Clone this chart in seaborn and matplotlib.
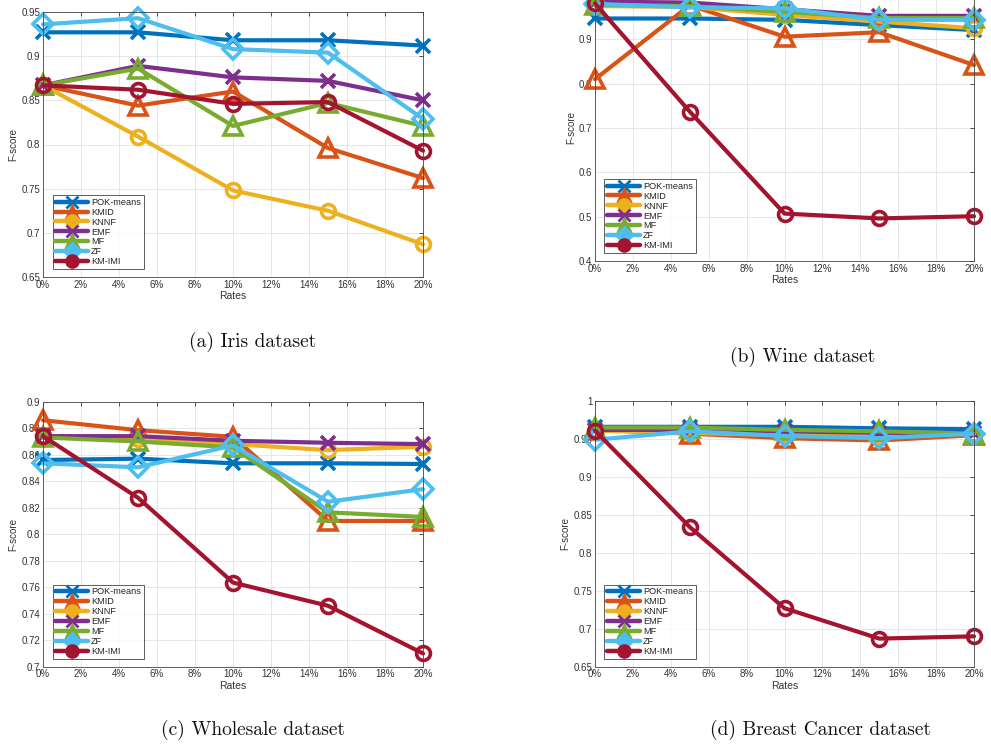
import numpy as np
import pandas as pd
import matplotlib
matplotlib.use("Agg")
import matplotlib.pyplot as plt
from matplotlib.lines import Line2D
import seaborn as sns

sns.set_theme(style="white")
plt.rcParams['font.family'] = ['Liberation Sans', 'DejaVu Sans']

rates = [0, 5, 10, 15, 20]
methods = ["POK-means", "KMID", "KNNF", "EMF", "MF", "ZF", "KM-IMI"]
colors = ["#0072BD", "#D95319", "#EDB120", "#7E2F8E", "#77AC30", "#4DBEEE", "#A2142F"]
markers = ["x", "^", "o", "x", "^", "D", "o"]

# (a) Iris
iris_pok = [0.927, 0.927, 0.918, 0.918, 0.912]
iris_kmid = [0.867, 0.844, 0.860, 0.796, 0.762]
iris_knnf = [0.867, 0.809, 0.748, 0.725, 0.687]
iris_emf = [0.867, 0.889, 0.876, 0.872, 0.850]
iris_mf = [0.867, 0.886, 0.821, 0.847, 0.821]
iris_zf = [0.936, 0.943, 0.908, 0.904, 0.829]
iris_kmimi = [0.867, 0.862, 0.846, 0.848, 0.793]

# (b) Wine
wine_pok = [0.947, 0.947, 0.944, 0.932, 0.921]
wine_kmid = [0.810, 0.977, 0.906, 0.916, 0.842]
wine_knnf = [0.975, 0.973, 0.955, 0.940, 0.925]
wine_emf = [0.985, 0.983, 0.968, 0.953, 0.953]
wine_mf = [0.978, 0.975, 0.962, 0.948, 0.948]
wine_zf = [0.980, 0.972, 0.970, 0.944, 0.944]
wine_kmimi = [0.981, 0.737, 0.507, 0.496, 0.501]

# (c) Wholesale
whole_pok = [0.856, 0.857, 0.8535, 0.8535, 0.853]
whole_kmid = [0.886, 0.8785, 0.8735, 0.810, 0.810]
whole_knnf = [0.874, 0.872, 0.868, 0.8635, 0.866]
whole_emf = [0.874, 0.874, 0.8705, 0.869, 0.868]
whole_mf = [0.873, 0.870, 0.8655, 0.8165, 0.813]
whole_zf = [0.8535, 0.8505, 0.867, 0.8245, 0.834]
whole_kmimi = [0.874, 0.8275, 0.7635, 0.746, 0.710]

# (d) Breast Cancer
breast_pok = [0.966, 0.966, 0.966, 0.964, 0.963]
breast_kmid = [0.962, 0.957, 0.951, 0.948, 0.955]
breast_knnf = [0.961, 0.958, 0.955, 0.953, 0.957]
breast_emf = [0.962, 0.962, 0.960, 0.958, 0.958]
breast_mf = [0.965, 0.965, 0.962, 0.960, 0.957]
breast_zf = [0.949, 0.960, 0.954, 0.951, 0.957]
breast_kmimi = [0.961, 0.834, 0.727, 0.687, 0.690]

panels = [
    dict(series=[iris_pok, iris_kmid, iris_knnf, iris_emf, iris_mf, iris_zf, iris_kmimi],
         ylim=(0.65, 0.95), yticks=np.arange(0.65, 0.951, 0.05),
         rect=[43/991, 1-277/746, 380/991, 265/746],
         caption="(a) Iris dataset", cap=(253, 342)),
    dict(series=[wine_pok, wine_kmid, wine_knnf, wine_emf, wine_mf, wine_zf, wine_kmimi],
         ylim=(0.4, 1.0), yticks=np.arange(0.4, 1.001, 0.1),
         rect=[595/991, 1-261/746, 379/991, 266/746],
         caption="(b) Wine dataset", cap=(803, 357)),
    dict(series=[whole_pok, whole_kmid, whole_knnf, whole_emf, whole_mf, whole_zf, whole_kmimi],
         ylim=(0.7, 0.9), yticks=np.arange(0.7, 0.901, 0.02),
         rect=[43/991, 1-666.7/746, 380/991, 265/746],
         caption="(c) Wholesale dataset", cap=(253, 730)),
    dict(series=[breast_pok, breast_kmid, breast_knnf, breast_emf, breast_mf, breast_zf, breast_kmimi],
         ylim=(0.65, 1.0), yticks=np.arange(0.65, 1.001, 0.05),
         rect=[595/991, 1-666.7/746, 379/991, 265.7/746],
         caption="(d) Breast Cancer dataset", cap=(820, 730)),
]

fig = plt.figure(figsize=(9.91, 7.46), dpi=100)
fig.patch.set_facecolor("white")

for p in panels:
    ax = fig.add_axes(p["rect"])
    for name, vals, c, m in zip(methods, p["series"], colors, markers):
        df = pd.DataFrame({"Rates": rates, "F": vals})
        ms = {"x": 10, "^": 12.5, "o": 10, "D": 10}[m]
        sns.lineplot(data=df, x="Rates", y="F", ax=ax, color=c, linewidth=3.0,
                     marker=m, markersize=ms, markerfacecolor="none",
                     markeredgecolor=c, markeredgewidth=2.6, clip_on=False,
                     legend=False)
    ax.set_xlim(0, 20)
    ax.set_ylim(*p["ylim"])
    ax.set_xticks(np.arange(0, 21, 2))
    ax.set_xticklabels([f"{v}%" for v in range(0, 21, 2)])
    ax.set_yticks(p["yticks"])
    ax.set_yticklabels([f"{round(v, 2):g}" for v in p["yticks"]])
    ax.grid(True, color="#e3e3e3", linewidth=0.6)
    ax.tick_params(direction="in", length=3, width=0.6, labelsize=7,
                   colors="#333333", top=True, right=True, pad=2)
    for s in ax.spines.values():
        s.set_color("#444444")
        s.set_linewidth(0.6)
    ax.set_xlabel("Rates", fontsize=7.5, color="#333333", labelpad=1)
    ax.set_ylabel("F-score", fontsize=7, color="#333333", labelpad=2)
    handles = [Line2D([0], [0], color=c, linewidth=3.2, marker=m, markersize=8.5,
                      markerfacecolor=c, markeredgecolor=c, markeredgewidth=2)
               for c, m in zip(colors, markers)]
    leg = ax.legend(handles, methods, loc="lower left", bbox_to_anchor=(0.025, 0.03),
                    borderaxespad=0, fontsize=6.6, handlelength=3.6, handletextpad=0.3,
                    labelspacing=0.1, borderpad=0.3, frameon=True, fancybox=False)
    leg.get_frame().set_edgecolor("#333333")
    leg.get_frame().set_linewidth(0.7)
    fig.text(p["cap"][0]/991, 1-p["cap"][1]/746, p["caption"], family="cmr10",
             fontsize=14, ha="center", va="center", color="#111111")

fig.savefig("out.png", dpi=100)
